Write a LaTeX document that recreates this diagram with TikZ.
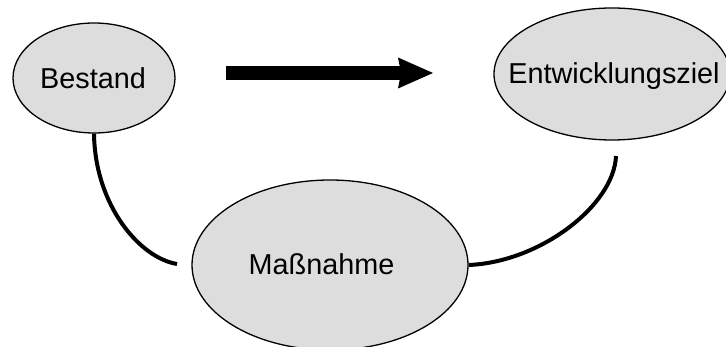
\documentclass[tikz,border=0pt]{standalone}
\usepackage{fontspec}
\setmainfont{Liberation Sans}
\usetikzlibrary{arrows.meta,shapes.geometric}

\definecolor{bubblefill}{HTML}{DDDDDD}

\tikzset{
  bubble/.style={ellipse, draw=black, line width=1.3pt, fill=bubblefill, inner sep=0pt},
  caption/.style={anchor=base, inner sep=0pt, font=\fontsize{28.8}{34}\selectfont},
  link/.style={line width=4pt},
  flow/.style={line width=13.3pt, -{Stealth[length=35pt, width=31pt, inset=3pt, line width=0pt]}}
}

\begin{document}
\begin{tikzpicture}[x=1pt, y=-1pt]
  \clip (0,0) rectangle (726,347);
  \fill[white] (0,0) rectangle (726,347);

  % the three states
  \node[bubble, minimum width=162pt, minimum height=110pt] (bestand) at (94,78) {};
  \node[bubble, minimum width=236pt, minimum height=132pt] (ziel) at (612,74) {};
  \node[bubble, minimum width=276pt, minimum height=170pt] (massnahme) at (330,265) {};

  \node[caption] (tbestand) at (93,89) {Bestand};
  \node[caption] (tziel) at (614,84) {Entwicklungsziel};
  \node[caption] (tmassnahme) at (321.5,275) {Maßnahme};

  % loose ends of the two curved links
  \coordinate (bfree) at (177,264);
  \coordinate (zfree) at (616,156);

  \draw[link] (bestand.south) .. controls +(1,72) and +(-37,-6) .. (bfree);
  \draw[link] (massnahme.east) .. controls +(72,-3) and +(-2,49) .. (zfree);

  % big direction arrow
  \coordinate (flowstart) at (226,73);
  \coordinate (flowend) at (433,73);
  \draw[flow] (flowstart) -- (flowend);
\end{tikzpicture}
\end{document}
